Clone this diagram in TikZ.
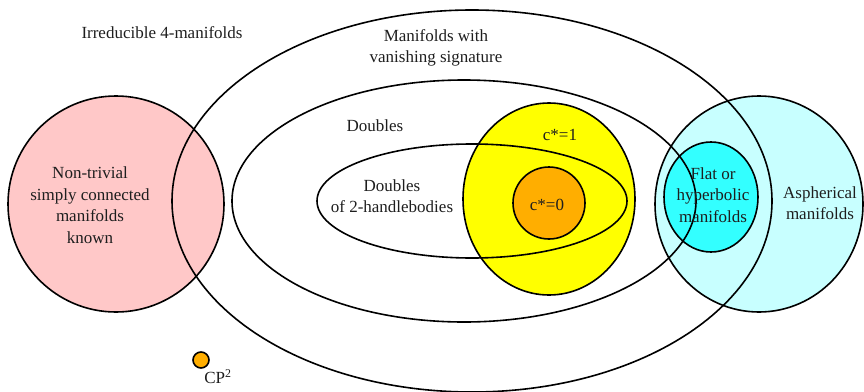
\documentclass[tikz,border=0pt]{standalone}
\usepackage{fontspec}
\setmainfont{Liberation Serif}
\definecolor{pinkfill}{RGB}{255,200,200}
\definecolor{yellowfill}{RGB}{255,255,0}
\definecolor{orangefill}{RGB}{255,174,0}
\definecolor{lightcyan}{RGB}{200,255,255}
\definecolor{darkcyan}{RGB}{51,255,255}
\definecolor{txt}{RGB}{30,30,30}
\begin{document}
\begin{tikzpicture}[x=1pt,y=-1pt,
  outline/.style={draw=black,line width=1.6pt},
  lbl/.style={inner sep=0pt,align=center,text=txt,font=\fontsize{17}{21.5}\selectfont}]
\useasboundingbox (0,0) rectangle (864,391);
% fills
\fill[pinkfill] (116,204) circle[radius=108];
\fill[lightcyan] (759,204) ellipse[x radius=104,y radius=108];
\fill[darkcyan] (711,197) ellipse[x radius=47,y radius=55];
\fill[yellowfill] (549,199) ellipse[x radius=86,y radius=96];
\fill[orangefill] (549,203) circle[radius=36];
\fill[orangefill] (201,360) circle[radius=8];
% outlines
\draw[outline] (116,204) circle[radius=108];
\draw[outline] (759,204) ellipse[x radius=104,y radius=108];
\draw[outline] (711,197) ellipse[x radius=47,y radius=55];
\draw[outline] (549,199) ellipse[x radius=86,y radius=96];
\draw[outline] (549,203) circle[radius=36];
\draw[outline] (201,360) circle[radius=8];
\draw[outline] (472,201) ellipse[x radius=300,y radius=191];
\draw[outline] (464,201) ellipse[x radius=232,y radius=121];
\draw[outline] (472,201) ellipse[x radius=155,y radius=57];
% labels
\node[lbl] (irr) at (162,33) {Irreducible 4-manifolds};
\node[lbl] (vs) at (436,48) {Manifolds with\\vanishing signature};
\node[lbl] (dbl) at (375,126) {Doubles};
\node[lbl] (c1) at (560,135) {c*=1};
\node[lbl] (dh) at (392,196) {Doubles\\of 2-handlebodies};
\node[lbl] (c0) at (547,205) {c*=0};
\node[lbl] (sc) at (90,205) {Non-trivial\\simply connected\\manifolds\\known};
\node[lbl] (fh) at (713,195) {Flat or\\hyperbolic\\manifolds};
\node[lbl] (asp) at (820,203) {Aspherical\\manifolds};
\node[lbl] (cp) at (218,377) {CP\textsuperscript{2}};
\end{tikzpicture}
\end{document}
